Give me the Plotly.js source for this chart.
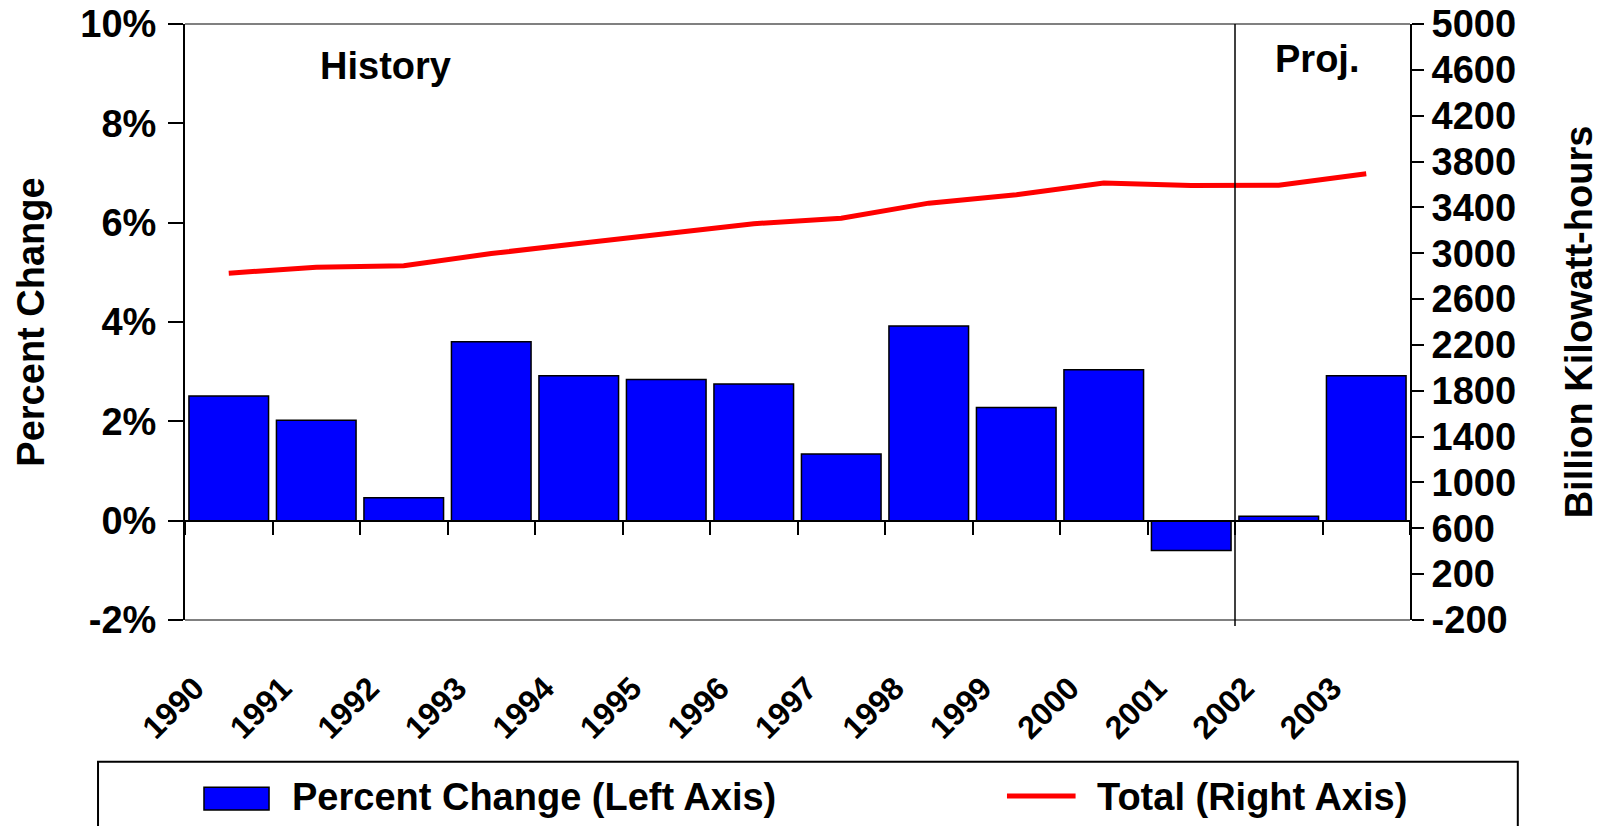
<!DOCTYPE html>
<html>
<head>
<meta charset="utf-8">
<script src="https://cdn.plot.ly/plotly-3.0.1.min.js"></script>
<style>
  html, body { margin: 0; padding: 0; background: #ffffff; }
  #chart { width: 1610px; height: 826px; }
</style>
</head>
<body>
<div id="chart"></div>
<script>
// ---- data ----
var years = ['1990','1991','1992','1993','1994','1995','1996','1997','1998','1999','2000','2001','2002','2003'];
var percentChange = [2.51, 2.02, 0.46, 3.60, 2.92, 2.84, 2.75, 1.34, 3.92, 2.28, 3.04, -0.60, 0.09, 2.92];
var totalBkWh = [2826, 2878, 2891, 2997, 3085, 3172, 3258, 3305, 3437, 3510, 3612, 3590, 3593, 3694];
var leftTickVals = [-2, 0, 2, 4, 6, 8, 10];
var leftTickText = ['-2%', '0%', '2%', '4%', '6%', '8%', '10%'];
var rightTickVals = [-200, 200, 600, 1000, 1400, 1800, 2200, 2600, 3000, 3400, 3800, 4200, 4600, 5000];
var rightTickText = ['-200', '200', '600', '1000', '1400', '1800', '2200', '2600', '3000', '3400', '3800', '4200', '4600', '5000'];
var firstProjectionYear = '2002';
var barName = 'Percent Change (Left Axis)';
var lineName = 'Total (Right Axis)';

// ---- styling ----
var FONT = 'Liberation Sans, Arial, Helvetica, sans-serif';
var big = {family: FONT, size: 38, color: '#000000', weight: 700};
var leftRange = [leftTickVals[0], leftTickVals[leftTickVals.length - 1]];
var zeroPos = (0 - leftRange[0]) / (leftRange[1] - leftRange[0]);

var traces = [
  {
    type: 'bar', name: barName, x: years, y: percentChange,
    xaxis: 'x', yaxis: 'y',
    marker: {color: '#0000FF', line: {color: '#000000', width: 1.5}},
    showlegend: false, hoverinfo: 'x+y'
  },
  {
    type: 'scatter', mode: 'lines', name: lineName, x: years, y: totalBkWh,
    xaxis: 'x2', yaxis: 'y2',
    line: {color: '#FF0000', width: 5},
    showlegend: false, hoverinfo: 'x+y'
  }
];

var projX = years.indexOf(firstProjectionYear) - 0.5;

var layout = {
  width: 1610, height: 826,
  margin: {l: 185, r: 200, t: 24, b: 206, pad: 0},
  paper_bgcolor: '#ffffff', plot_bgcolor: '#ffffff',
  font: {family: FONT, color: '#000000'},
  showlegend: false,
  bargap: 0.09,
  xaxis: {
    type: 'category', categoryorder: 'array', categoryarray: years,
    range: [-0.5, years.length - 0.5],
    anchor: 'free', position: zeroPos,
    showline: true, linecolor: '#000000', linewidth: 2,
    ticks: 'outside', tickson: 'boundaries', ticklen: 13, tickwidth: 2, tickcolor: '#000000',
    showticklabels: false, showgrid: false, zeroline: false, fixedrange: true
  },
  xaxis2: {
    type: 'category', categoryorder: 'array', categoryarray: years,
    range: [-0.5, years.length - 0.5],
    overlaying: 'x', anchor: 'y', side: 'bottom',
    showline: false, ticks: '', showgrid: false, zeroline: false,
    tickangle: -45, tickfont: {family: FONT, size: 32, color: '#000000', weight: 700},
    ticklabelstandoff: 42, ticklabelshift: -34, fixedrange: true
  },
  yaxis: {
    range: leftRange, domain: [0, 1],
    tickmode: 'array', tickvals: leftTickVals, ticktext: leftTickText,
    showline: true, linecolor: '#000000', linewidth: 2,
    ticks: 'outside', ticklen: 15, tickwidth: 2, tickcolor: '#000000',
    tickfont: big, showgrid: false, zeroline: false, ticklabelstandoff: 4,
    title: {text: 'Percent Change', font: big, standoff: 24},
    fixedrange: true
  },
  yaxis2: {
    range: [rightTickVals[0], rightTickVals[rightTickVals.length - 1]],
    overlaying: 'y', side: 'right', anchor: 'x2',
    tickmode: 'array', tickvals: rightTickVals, ticktext: rightTickText,
    showline: true, linecolor: '#000000', linewidth: 2,
    ticks: 'outside', ticklen: 12, tickwidth: 2, tickcolor: '#000000',
    tickfont: big, showgrid: false, zeroline: false,
    title: {text: 'Billion Kilowatt-hours', font: big, standoff: 50},
    fixedrange: true
  },
  shapes: [
    // plot area top & bottom border (gray)
    {type: 'line', xref: 'paper', yref: 'paper', x0: 0, x1: 1, y0: 1, y1: 1,
     line: {color: '#808080', width: 2}, layer: 'below'},
    {type: 'line', xref: 'paper', yref: 'paper', x0: 0, x1: 1, y0: 0, y1: 0,
     line: {color: '#808080', width: 2}, layer: 'below'},
    // history / projection divider
    {type: 'line', xref: 'x', yref: 'paper', x0: projX, x1: projX, y0: -0.01, y1: 1,
     line: {color: '#000000', width: 1.5}, layer: 'above'},
    // legend box
    {type: 'rect', xref: 'paper', yref: 'paper', x0: -0.071, x1: 1.088, y0: -0.45, y1: -0.238,
     line: {color: '#000000', width: 2}, fillcolor: 'rgba(0,0,0,0)'},
    // legend bar swatch
    {type: 'rect', xref: 'paper', yref: 'paper', x0: 0.0155, x1: 0.0686, y0: -0.3188, y1: -0.2807,
     line: {color: '#000000', width: 1.5}, fillcolor: '#0000FF'},
    // legend line swatch
    {type: 'line', xref: 'paper', yref: 'paper', x0: 0.671, x1: 0.727, y0: -0.2953, y1: -0.2953,
     line: {color: '#FF0000', width: 5}}
  ],
  annotations: [
    {text: 'History', xref: 'paper', yref: 'paper', x: 0.164, y: 0.929,
     xanchor: 'center', yanchor: 'middle', showarrow: false, font: big},
    {text: 'Proj.', xref: 'paper', yref: 'paper', x: 0.9237, y: 0.941,
     xanchor: 'center', yanchor: 'middle', showarrow: false, font: big},
    {text: barName, xref: 'paper', yref: 'paper', x: 0.0857, y: -0.297,
     xanchor: 'left', yanchor: 'middle', showarrow: false, font: big},
    {text: lineName, xref: 'paper', yref: 'paper', x: 0.7429, y: -0.297,
     xanchor: 'left', yanchor: 'middle', showarrow: false, font: big}
  ]
};

Plotly.newPlot('chart', traces, layout, {displayModeBar: false, staticPlot: true});
</script>
</body>
</html>
